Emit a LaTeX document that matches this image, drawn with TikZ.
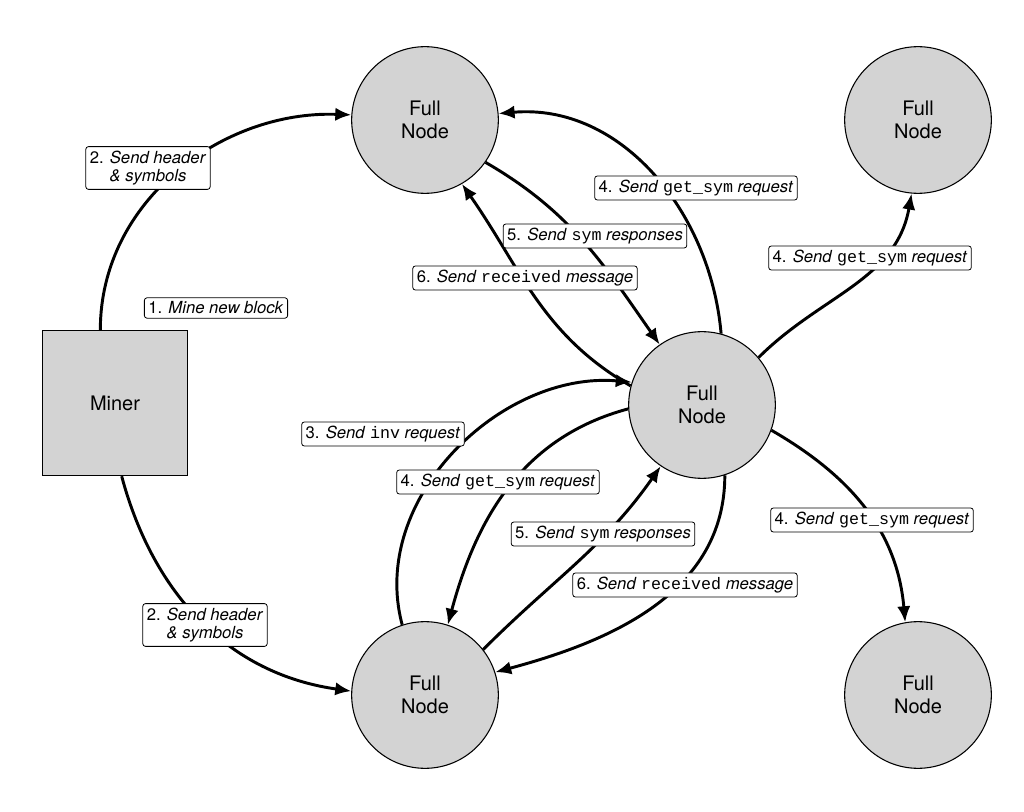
\documentclass[tikz,border=0pt]{standalone}
\usepackage{fontspec}
\setmainfont{TeX Gyre Heros}
\setmonofont{Liberation Mono}
\usetikzlibrary{arrows.meta}
\definecolor{nodegray}{RGB}{211,211,211}

\begin{document}
\begin{tikzpicture}[x=0.75pt,y=-0.75pt,
fullnode/.style={
  circle,
  draw=black,
  line width=0.8pt,
  fill=nodegray,
  minimum size=110pt,
  align=center,
  font={\fontsize{15}{17}\selectfont}},
minerb/.style={fullnode,rectangle,minimum size=109pt},
msg/.style={
  draw=black,
  fill=white,
  rounded corners=2pt,
  line width=0.6pt,
  align=center,
  inner sep=3pt,
  font={\fontsize{12.5}{14}\selectfont}},
flow/.style={line width=2.2pt,-{Latex[length=12pt,width=10pt]}},
]
\useasboundingbox (0,0) rectangle (1024,812);
\node[fullnode] (TL) at (425,120) {Full\\Node};
\node[fullnode] (TR) at (918,120) {Full\\Node};
\node[fullnode] (C) at (702,405) {Full\\Node};
\node[fullnode] (BL) at (425,695) {Full\\Node};
\node[fullnode] (BR) at (918,695) {Full\\Node};
\node[minerb] (Min) at (115,403) {Miner};
% connectors
\draw[flow] ([xshift=-11pt]Min.north) to[out=90,in=178] (TL.176);
\draw[flow] ([xshift=5pt]Min.south) to[out=-75,in=172] (BL.177);
\draw[flow] (C.75) to[out=95,in=5] (TL.5);
\draw[flow] (TL.-35) to[out=-30,in=125] (C.125);
\draw[flow] (C.165) to[out=150,in=-55] (TL.-60);
\draw[flow] (C.40) to[out=45,in=-100] (TR.-95);
\draw[flow] (C.-20) to[out=-30,in=95] (BR.100);
\draw[flow] (BL.108) to[out=105,in=175] (C.162);
\draw[flow] (C.183) to[out=195,in=75] (BL.72);
\draw[flow] (BL.38) to[out=45,in=235] (C.236);
\draw[flow] (C.-72) to[out=-90,in=15] (BL.18);
% labels
\node[msg] (L2a) at (148,168) {2. \textit{Send header}\\\textit{\& symbols}};
\node[msg] (L1) at (216,308) {1. \textit{Mine new block}};
\node[msg] (L4a) at (696,188) {4. \textit{Send} \texttt{get\_sym} \textit{request}};
\node[msg] (L5a) at (595,236) {5. \textit{Send} \texttt{sym} \textit{responses}};
\node[msg] (L6a) at (525,278) {6. \textit{Send} \texttt{received} \textit{message}};
\node[msg] (L4b) at (870,258) {4. \textit{Send} \texttt{get\_sym} \textit{request}};
\node[msg] (L3) at (383,434) {3. \textit{Send} \texttt{inv} \textit{request}};
\node[msg] (L4c) at (498,482) {4. \textit{Send} \texttt{get\_sym} \textit{request}};
\node[msg] (L5b) at (603,534) {5. \textit{Send} \texttt{sym} \textit{responses}};
\node[msg] (L6b) at (685,585) {6. \textit{Send} \texttt{received} \textit{message}};
\node[msg] (L4d) at (872,520) {4. \textit{Send} \texttt{get\_sym} \textit{request}};
\node[msg] (L2b) at (205,625) {2. \textit{Send header}\\\textit{\& symbols}};
\end{tikzpicture}
\end{document}
